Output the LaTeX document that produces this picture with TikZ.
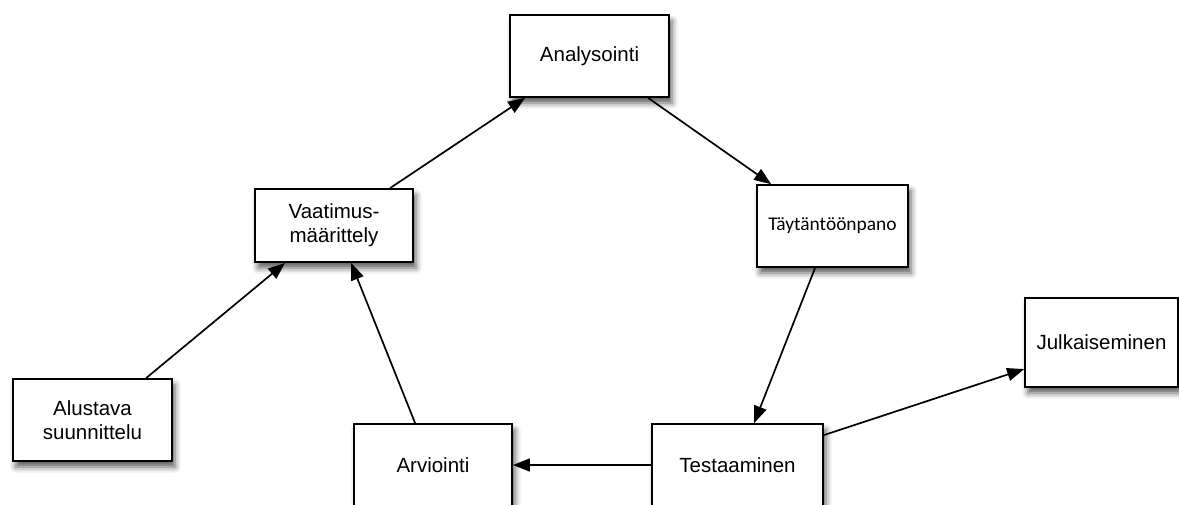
\documentclass[tikz,border=0pt]{standalone}
\usepackage{fontspec}
\setmainfont{Liberation Sans}
\newfontfamily\calibfont{Carlito}
\usetikzlibrary{arrows.meta,shadows.blur}

\tikzset{
  stagebox/.style={
    draw=black, line width=1.8pt, fill=white, align=center,
    inner sep=0pt, font=\fontsize{20.5}{24}\selectfont,
    blur shadow={shadow xshift=3pt, shadow yshift=-6pt,
                 shadow blur radius=6pt, shadow opacity=65}
  },
  flow/.style={
    draw=black, line width=1.7pt,
    -{Triangle[length=17pt,width=13pt]}
  }
}

\begin{document}
\begin{tikzpicture}[x=1pt,y=-1pt]
  \useasboundingbox (0,0) rectangle (1179,504);

  % process stages
  \node[stagebox, minimum width=159pt, minimum height=82pt] (ana) at (589.5,56) {Analysointi};
  \node[stagebox, minimum width=151pt, minimum height=82pt, font=\calibfont\fontsize{19.4}{23}\selectfont] (tay) at (832.5,226) {Täytäntöönpano};
  \node[stagebox, minimum width=158pt, minimum height=73pt] (vaa) at (334,225.5) {Vaatimus-\\määrittely};
  \node[stagebox, minimum width=159pt, minimum height=82pt] (alu) at (92.5,420) {Alustava\\suunnittelu};
  \node[stagebox, minimum width=158pt, minimum height=82pt] (arv) at (433,465) {Arviointi};
  \node[stagebox, minimum width=171pt, minimum height=82pt] (tes) at (737.5,465) {Testaaminen};
  \node[stagebox, minimum width=153pt, minimum height=89pt] (jul) at (1101.5,342.5) {Julkaiseminen};

  % transitions between stages
  \draw[flow] ([xshift=134pt]alu.north west) -- ([xshift=31pt]vaa.south west);
  \draw[flow] ([xshift=62pt]arv.north west) -- ([xshift=97pt]vaa.south west);
  \draw[flow] ([xshift=136pt]vaa.north west) -- ([xshift=16pt]ana.south west);
  \draw[flow] ([xshift=139pt]ana.south west) -- ([xshift=15pt]tay.north west);
  \draw[flow] ([xshift=59pt]tay.south west) -- ([xshift=103pt]tes.north west);
  \draw[flow] (tes.west) -- (arv.east);
  \draw[flow] ([yshift=-12pt]tes.north east) -- ([yshift=-72pt]jul.north west);
\end{tikzpicture}
\end{document}
